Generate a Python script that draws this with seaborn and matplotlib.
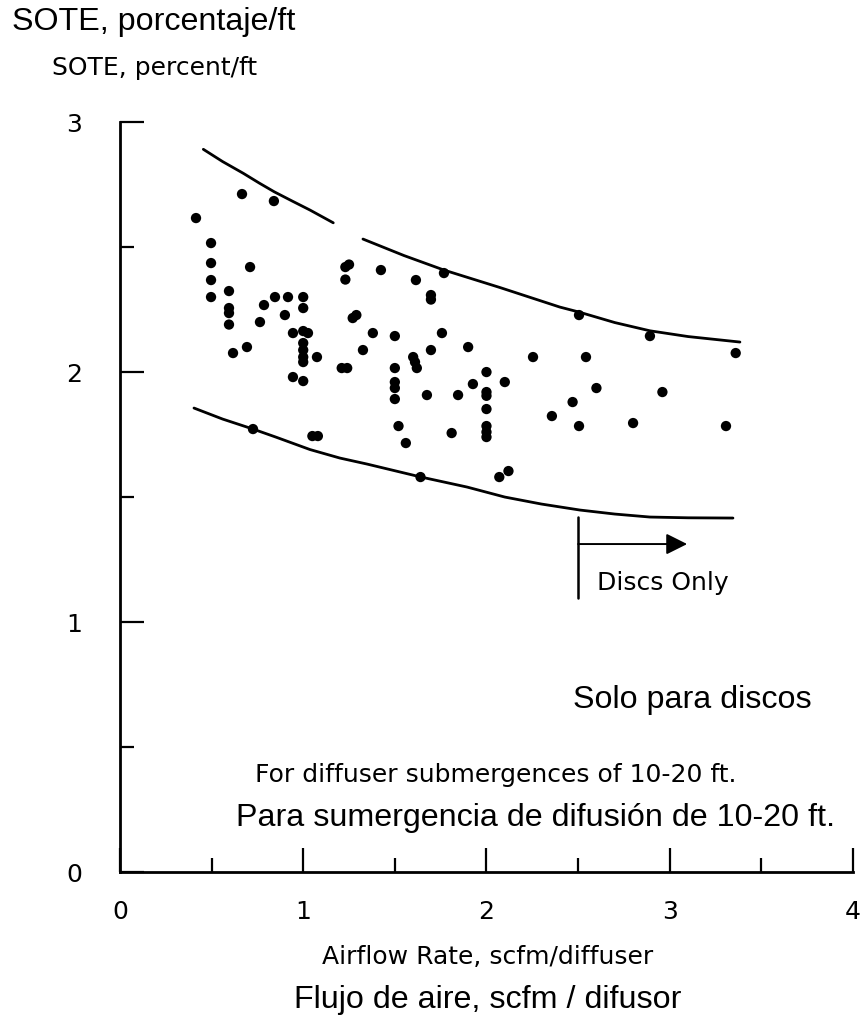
import pandas as pd
import seaborn as sns
import matplotlib.pyplot as plt
from matplotlib.ticker import MultipleLocator

# data (airflow rate vs SOTE)
airflow = [0.415, 0.666, 0.84, 0.497, 0.497, 0.497, 0.497, 0.71, 0.595, 0.595,
           0.595, 0.595, 0.786, 0.846, 0.917, 1.0, 1.0, 0.90, 0.764, 0.944,
           1.0, 1.026, 1.0, 1.0, 1.0, 1.0, 1.075, 0.617, 0.693, 0.944,
           1.0, 1.21, 1.24, 1.23, 1.25, 1.23, 1.27, 1.29, 1.326, 0.726,
           1.05, 1.08, 1.424, 1.615, 1.768, 1.697, 1.697, 1.38, 1.50, 1.757,
           1.697, 1.90, 2.254, 1.50, 1.60, 1.61, 1.62, 1.50, 1.50, 1.50,
           1.675, 1.845, 1.926, 2.0, 2.0, 2.0, 2.0, 2.0, 2.0, 2.0,
           2.10, 2.357, 1.81, 1.52, 1.56, 1.64, 2.07, 2.12, 2.505, 2.892,
           3.36, 2.543, 2.60, 2.96, 2.47, 2.505, 2.80, 3.307]
sote = [2.616, 2.712, 2.684, 2.516, 2.436, 2.368, 2.30, 2.42, 2.324, 2.256,
        2.236, 2.19, 2.268, 2.30, 2.30, 2.30, 2.256, 2.228, 2.20, 2.156,
        2.164, 2.156, 2.116, 2.088, 2.06, 2.04, 2.06, 2.076, 2.10, 1.98,
        1.964, 2.016, 2.016, 2.42, 2.43, 2.37, 2.216, 2.228, 2.088, 1.772,
        1.744, 1.744, 2.408, 2.368, 2.396, 2.308, 2.29, 2.156, 2.144, 2.156,
        2.088, 2.10, 2.06, 2.016, 2.06, 2.04, 2.016, 1.96, 1.936, 1.892,
        1.908, 1.908, 1.952, 2.0, 1.92, 1.905, 1.852, 1.784, 1.76, 1.74,
        1.96, 1.824, 1.756, 1.784, 1.716, 1.58, 1.58, 1.604, 2.228, 2.144,
        2.076, 2.06, 1.936, 1.92, 1.88, 1.784, 1.796, 1.784]

# upper envelope (drawn in two pieces, there is a gap in the original)
upper1_x = [0.455, 0.56, 0.673, 0.76, 0.842, 0.94, 1.037, 1.164]
upper1_y = [2.891, 2.842, 2.795, 2.756, 2.721, 2.684, 2.648, 2.597]
upper2_x = [1.326, 1.55, 1.768, 2.074, 2.40, 2.505, 2.70, 2.892, 3.10, 3.383]
upper2_y = [2.532, 2.466, 2.408, 2.338, 2.26, 2.24, 2.198, 2.165, 2.142, 2.12]

# lower envelope
lower_x = [0.404, 0.56, 0.726, 0.85, 1.037, 1.20, 1.348, 1.643, 1.894, 2.1,
           2.30, 2.51, 2.70, 2.892, 3.10, 3.345]
lower_y = [1.856, 1.812, 1.772, 1.74, 1.69, 1.656, 1.632, 1.58, 1.54, 1.50,
           1.472, 1.448, 1.432, 1.42, 1.417, 1.416]

# "discs only" marker
discs_line_x = [2.5, 2.5]
discs_line_y = [1.096, 1.42]
discs_arrow_start = (2.5, 1.312)
discs_arrow_end = (3.095, 1.312)

x_ticks = [0, 1, 2, 3, 4]
y_ticks = [0, 1, 2, 3]

points = pd.DataFrame({'airflow': airflow, 'sote': sote})
up1 = pd.DataFrame({'x': upper1_x, 'y': upper1_y})
up2 = pd.DataFrame({'x': upper2_x, 'y': upper2_y})
low = pd.DataFrame({'x': lower_x, 'y': lower_y})

sns.set_style('ticks')
plt.rcParams['font.family'] = ['Liberation Sans', 'DejaVu Sans']
plt.rcParams['text.color'] = 'black'
plt.rcParams['xtick.color'] = 'black'
plt.rcParams['ytick.color'] = 'black'
scan_font = 'DejaVu Sans'   # the original (English) labels are a wider face
es_size = 23.2

fig = plt.figure(figsize=(8.63, 10.24), dpi=100)
ax = fig.add_axes([0.139, 0.1484, 0.8494, 0.7324])

sns.scatterplot(data=points, x='airflow', y='sote', ax=ax, color='black',
                s=55, edgecolor='none', legend=False)
for seg in [up1, up2, low]:
    sns.lineplot(data=seg, x='x', y='y', ax=ax, color='black', lw=2,
                 sort=False, estimator=None)

ax.plot(discs_line_x, discs_line_y, color='black', lw=1.8)
ax.annotate('', xy=discs_arrow_end, xytext=discs_arrow_start,
            arrowprops=dict(arrowstyle='-|>', color='black', lw=1.4,
                            mutation_scale=32, shrinkA=0, shrinkB=0))
ax.text(2.603, 1.156, 'Discs Only', fontsize=18, va='center', ha='left',
        family=scan_font)

ax.set_xlim(0, 4)
ax.set_ylim(0, 3)
ax.set_xticks(x_ticks)
ax.set_yticks(y_ticks)
ax.xaxis.set_minor_locator(MultipleLocator(0.5))
ax.yaxis.set_minor_locator(MultipleLocator(0.5))
ax.tick_params(which='major', direction='in', length=17, width=1.6,
               labelsize=18, color='black', labelcolor='black')
ax.tick_params(axis='y', which='major', pad=27)
ax.tick_params(axis='x', which='major', pad=20)
ax.tick_params(which='minor', direction='in', length=10, width=1.6,
               color='black')
for lab in ax.get_xticklabels() + ax.get_yticklabels():
    lab.set_family(scan_font)
ax.set_xlabel('')
ax.set_ylabel('')
sns.despine(ax=ax)
for side in ['left', 'bottom']:
    ax.spines[side].set_linewidth(2)
    ax.spines[side].set_color('black')

ax.text(2.472, 0.688, 'Solo para discos', fontsize=es_size, va='center')
ax.text(0.737, 0.388, 'For diffuser submergences of 10-20 ft.', fontsize=18,
        va='center', family=scan_font)
ax.text(0.633, 0.216, 'Para sumergencia de difusión de 10-20 ft.',
        fontsize=es_size, va='center')

fig.text(0.0139, 0.9785, 'SOTE, porcentaje/ft', fontsize=es_size, va='center')
fig.text(0.0603, 0.9336, 'SOTE, percent/ft', fontsize=18, va='center',
         family=scan_font)
fig.text(0.5655, 0.0654, 'Airflow Rate, scfm/diffuser', fontsize=18,
         ha='center', va='center', family=scan_font)
fig.text(0.5655, 0.0234, 'Flujo de aire, scfm / difusor', fontsize=es_size,
         ha='center', va='center')

fig.savefig('out.png', dpi=100)
